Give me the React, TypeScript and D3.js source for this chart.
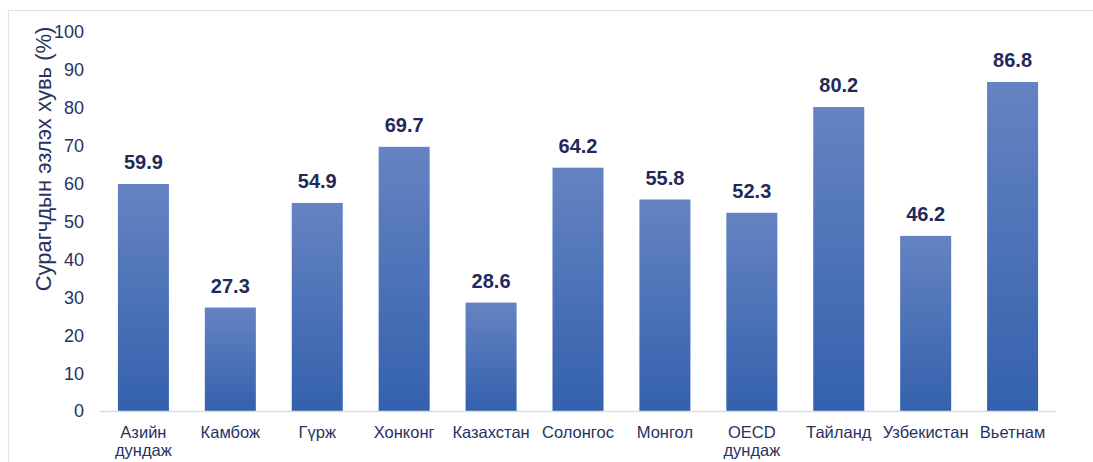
import React from "react";
import * as d3 from "d3";

const categories: string[][] = [
  ["Азийн", "дундаж"],
  ["Камбож"],
  ["Гүрж"],
  ["Хонконг"],
  ["Казахстан"],
  ["Солонгос"],
  ["Монгол"],
  ["OECD", "дундаж"],
  ["Тайланд"],
  ["Узбекистан"],
  ["Вьетнам"],
];
const values: number[] = [59.9, 27.3, 54.9, 69.7, 28.6, 64.2, 55.8, 52.3, 80.2, 46.2, 86.8];
const yTicks: number[] = [0, 10, 20, 30, 40, 50, 60, 70, 80, 90, 100];
const yTitle = "Сурагчдын эзлэх хувь (%)";

const W = 1093;
const H = 462;
const FONT = "'Liberation Sans', Arial, sans-serif";
const TEXT = "#27325f";

export default function App() {
  const x = d3
    .scaleBand<number>()
    .domain(d3.range(categories.length))
    .range([100, 1056])
    .paddingInner(0.413)
    .paddingOuter(0.206);
  const y = d3.scaleLinear().domain([0, 100]).range([411, 32]);

  return (
    <svg
      width={W}
      height={H}
      style={{ position: "absolute", left: 0, top: 0, background: "#fff" }}
      fontFamily={FONT}
    >
      <defs>
        <linearGradient id="barGrad" x1="0" y1="0" x2="0" y2="1">
          <stop offset="0%" stopColor="#6583c2" />
          <stop offset="100%" stopColor="#3461ad" />
        </linearGradient>
      </defs>
      <rect x={8.5} y={10.5} width={W + 10} height={H + 10} fill="none" stroke="#dde2ec" strokeWidth={1.2} />

      {yTicks.map((t) => (
        <text
          key={t}
          x={84}
          y={y(t)}
          dy="0.36em"
          textAnchor="end"
          fontSize={18}
          fill={TEXT}
        >
          {t}
        </text>
      ))}

      <text
        transform={`translate(51, 159) rotate(-90)`}
        textAnchor="middle"
        fontSize={22}
        fill={TEXT}
      >
        {yTitle}
      </text>

      {values.map((v, i) => (
        <g key={i}>
          <rect
            x={x(i)}
            y={y(v)}
            width={x.bandwidth()}
            height={y(0) - y(v)}
            fill="url(#barGrad)"
          />
          <text
            x={(x(i) as number) + x.bandwidth() / 2}
            y={y(v) - 15}
            textAnchor="middle"
            fontSize={20}
            fontWeight="bold"
            fill="#1f2a5a"
          >
            {v.toFixed(1)}
          </text>
        </g>
      ))}

      <line x1={100} x2={1056} y1={411.5} y2={411.5} stroke="#d9dde6" strokeWidth={1.5} />

      {categories.map((lines, i) => (
        <text
          key={i}
          x={(x(i) as number) + x.bandwidth() / 2}
          y={438}
          textAnchor="middle"
          fontSize={16.5}
          fill={TEXT}
        >
          {lines.map((l, j) => (
            <tspan key={j} x={(x(i) as number) + x.bandwidth() / 2} dy={j === 0 ? 0 : 18}>
              {l}
            </tspan>
          ))}
        </text>
      ))}
    </svg>
  );
}
